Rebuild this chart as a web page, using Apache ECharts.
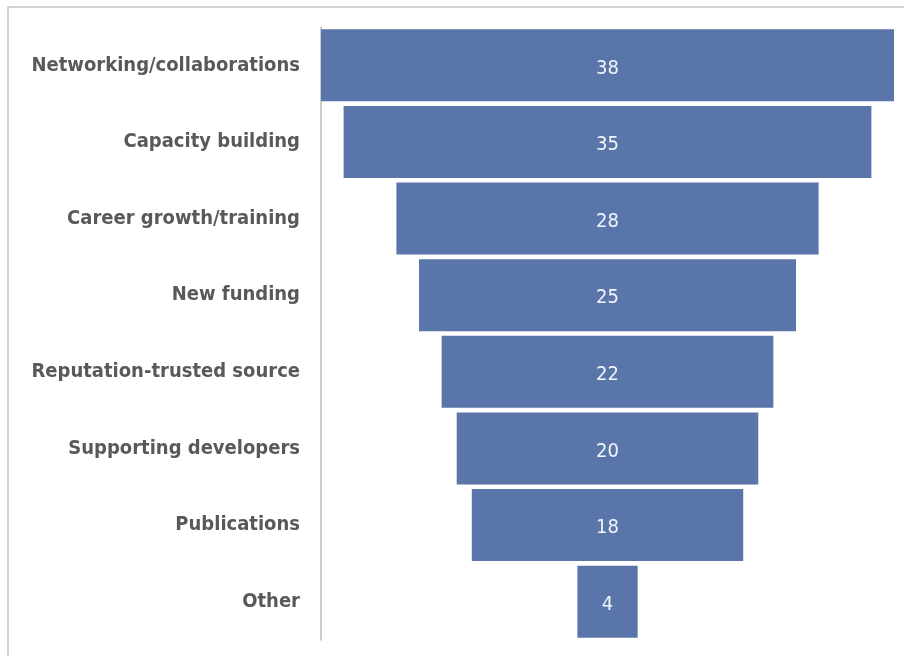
<!DOCTYPE html>
<html>
<head>
<meta charset="utf-8">
<script src="https://cdn.jsdelivr.net/npm/echarts@6/dist/echarts.min.js"></script>
<style>
  html, body { margin: 0; padding: 0; background: #fff; }
  #chart { width: 904px; height: 656px; }
</style>
</head>
<body>
<div id="chart"></div>
<script>
// Reasons for taking part, as counts per category (funnel layout)
const categories = [
  'Networking/collaborations',
  'Capacity building',
  'Career growth/training',
  'New funding',
  'Reputation-trusted source',
  'Supporting developers',
  'Publications',
  'Other'
];
const counts = [38, 35, 28, 25, 22, 20, 18, 4];

const maxCount = Math.max(...counts);
// invisible spacer so every bar is centred on the widest one
const spacer = counts.map(v => (maxCount - v) / 2);

const FONT = '"DejaVu Sans Condensed", "Liberation Sans Narrow", "Liberation Sans", sans-serif';

const chart = echarts.init(document.getElementById('chart'), null, { renderer: 'canvas' });
chart.setOption({
  backgroundColor: '#ffffff',
  animation: false,
  graphic: [{
    type: 'rect',
    shape: { x: 8, y: 7, width: 1000, height: 1000 },
    style: { fill: 'none', stroke: '#c4c4c4', lineWidth: 1.5 },
    silent: true
  }],
  grid: { left: 321, right: 10, top: 27, bottom: 16, containLabel: false },
  xAxis: {
    type: 'value',
    min: 0,
    max: maxCount,
    show: false
  },
  yAxis: {
    type: 'category',
    data: categories,
    inverse: true,
    axisLine: { show: true, lineStyle: { color: '#bdbdbd', width: 1.5 } },
    axisTick: { show: false },
    axisLabel: {
      margin: 21,
      color: '#595959',
      fontFamily: FONT,
      fontWeight: 'bold',
      fontSize: 20,
      padding: [4, 0, 0, 0]
    },
    splitLine: { show: false }
  },
  series: [
    {
      name: 'spacer',
      type: 'bar',
      stack: 'funnel',
      data: spacer,
      itemStyle: { color: 'transparent' },
      barCategoryGap: '6%',
      silent: true
    },
    {
      name: 'count',
      type: 'bar',
      stack: 'funnel',
      data: counts,
      barCategoryGap: '6%',
      itemStyle: { color: '#5a75aa' },
      label: {
        show: true,
        position: 'inside',
        offset: [0, 3],
        color: '#f2f5fa',
        fontFamily: FONT,
        fontSize: 20
      }
    }
  ]
});
</script>
</body>
</html>
